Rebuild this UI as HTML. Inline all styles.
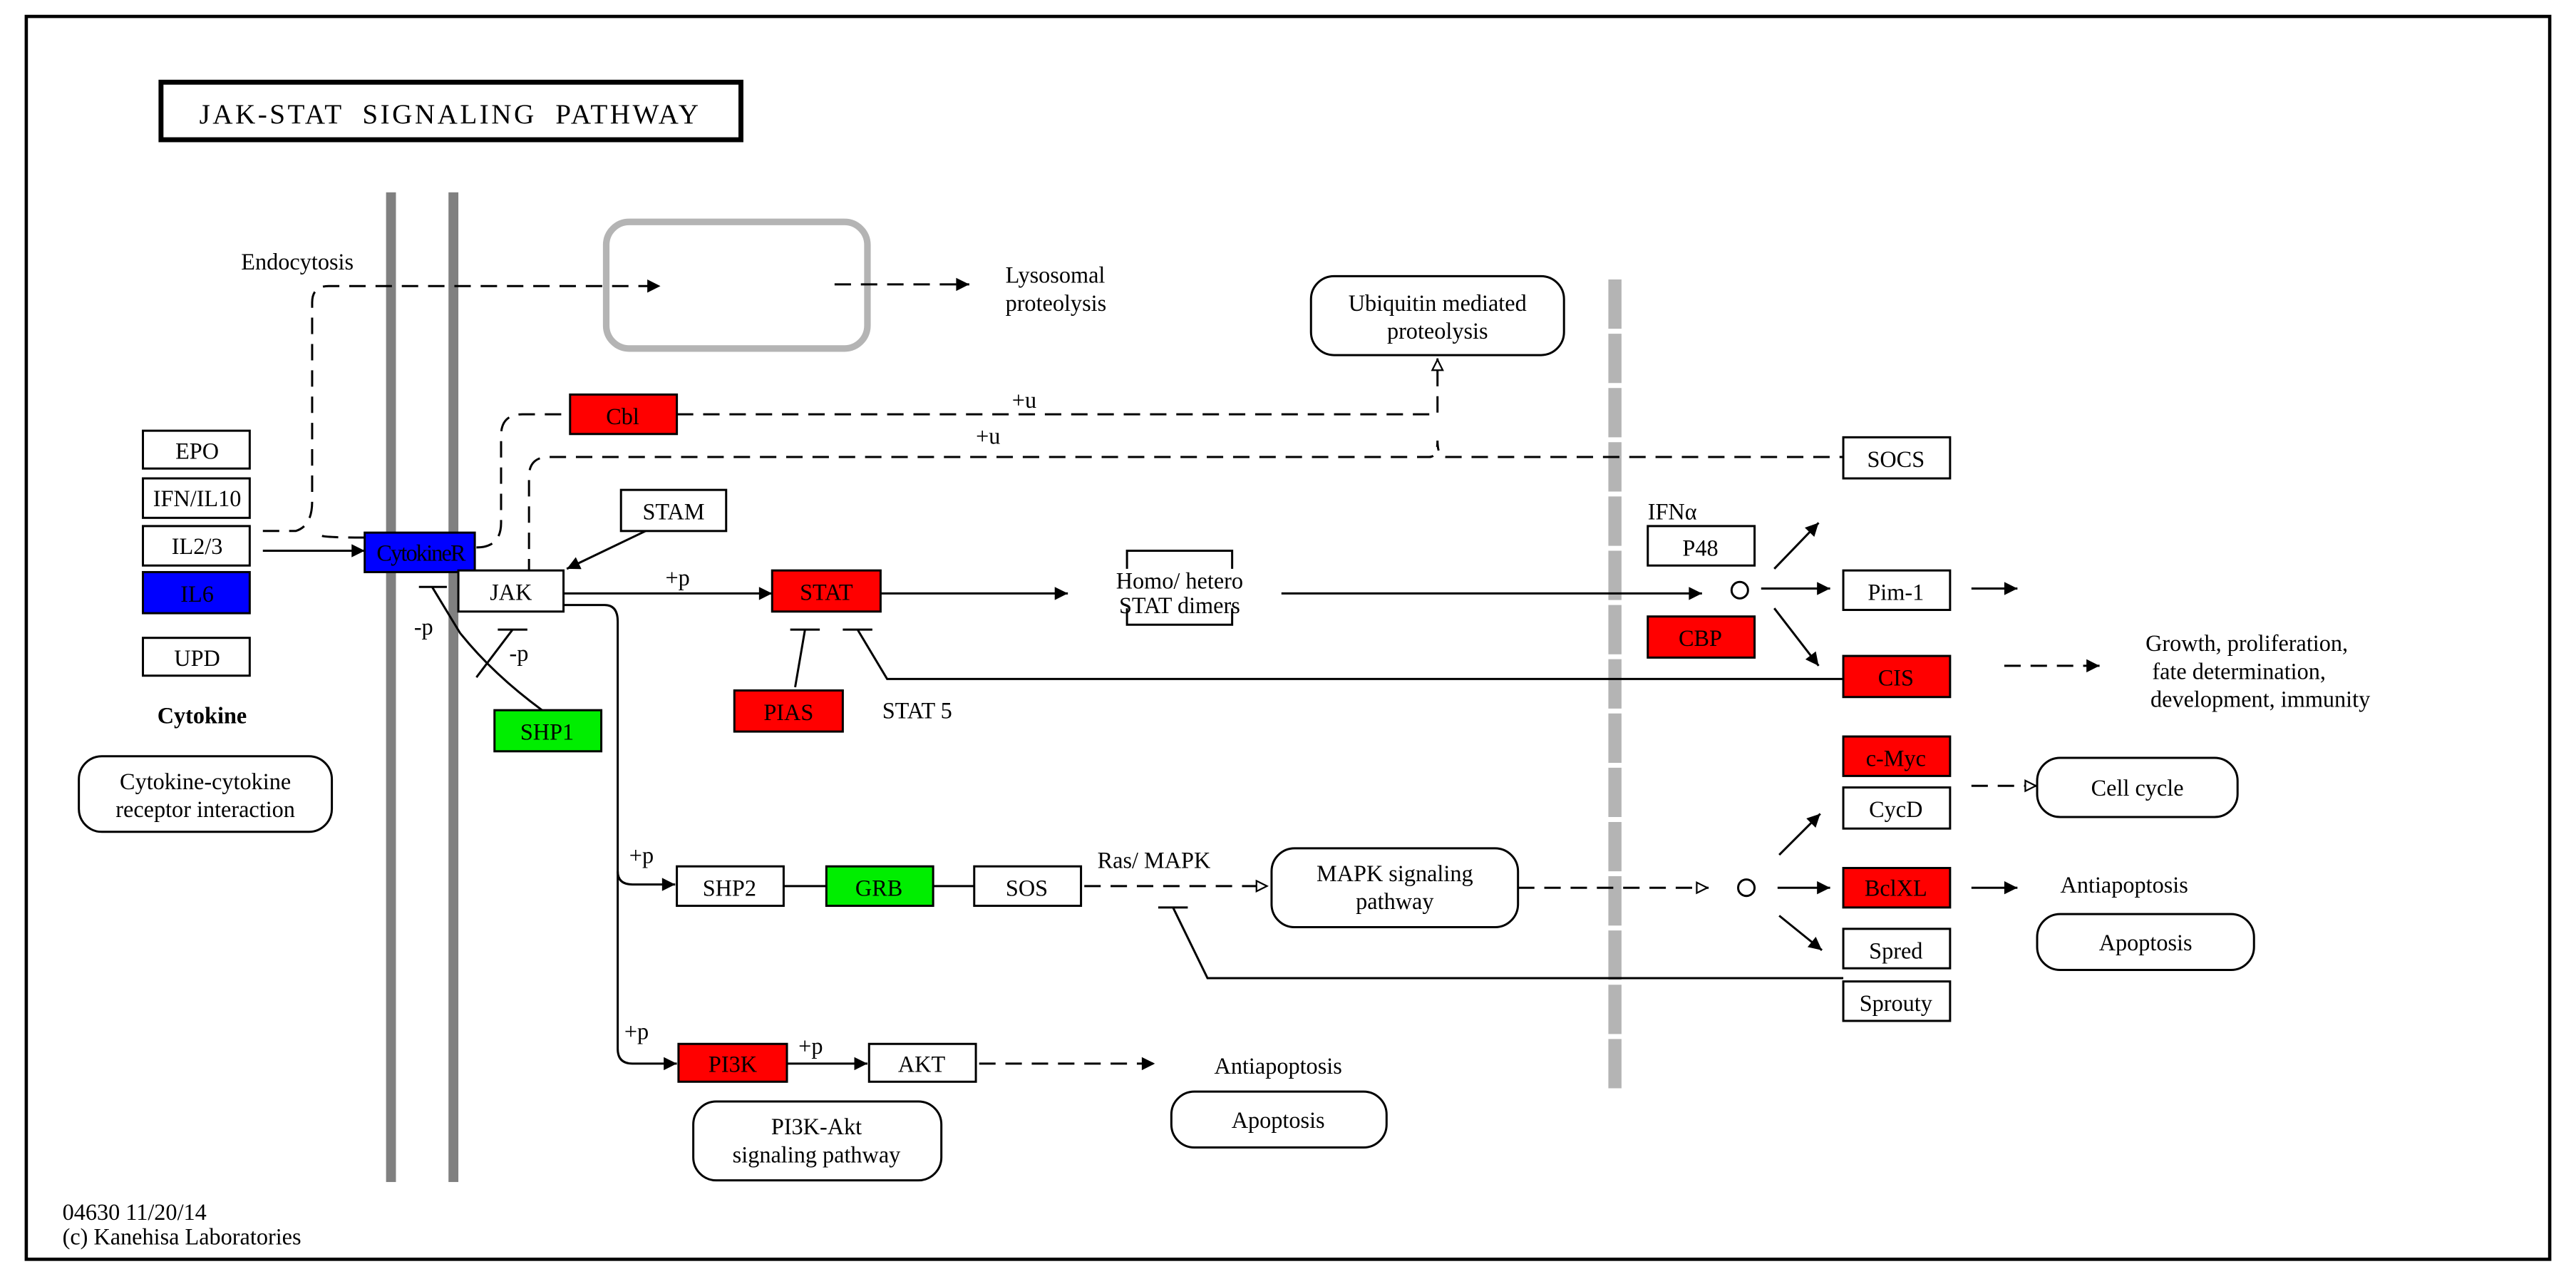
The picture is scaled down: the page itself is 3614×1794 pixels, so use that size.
<!DOCTYPE html>
<html><head><meta charset="utf-8"><style>
html,body{margin:0;padding:0;background:#fff}
svg{display:block}
text{font-family:"Liberation Serif",serif;font-size:14px;fill:#000}
</style></head><body>
<svg width="3614" height="1794" viewBox="0 0 1568 778" preserveAspectRatio="none" xmlns="http://www.w3.org/2000/svg">
<defs>
<marker id="a" viewBox="0 0 10 10" refX="10" refY="5" markerWidth="10" markerHeight="8" markerUnits="userSpaceOnUse" orient="auto"><path d="M0,0L10,5L0,10z" fill="#000"/></marker>
<marker id="o" viewBox="0 0 10 10" refX="10" refY="5" markerWidth="10" markerHeight="8" markerUnits="userSpaceOnUse" orient="auto"><path d="M1,1L9,5L1,9z" fill="#fff" stroke="#000" stroke-width="1.2"/></marker>
</defs>
<rect x="16" y="10" width="1536" height="756" fill="none" stroke="#000" stroke-width="2"/>
<rect x="98" y="50" width="353" height="35" fill="none" stroke="#000" stroke-width="3"/>
<text x="274" y="75" text-anchor="middle" style="font-size:17px;letter-spacing:1.5px;white-space:pre" xml:space="preserve">JAK-STAT  SIGNALING  PATHWAY</text>
<rect x="235" y="117" width="6" height="602" fill="#808080"/>
<rect x="273" y="117" width="6" height="602" fill="#808080"/>
<line x1="983" y1="170" x2="983" y2="665" stroke="#b4b4b4" stroke-width="8" stroke-dasharray="30,3"/>
<rect x="369" y="135" width="159" height="77" rx="14" fill="none" stroke="#b4b4b4" stroke-width="4"/>
<g stroke="#000" stroke-width="1.3" fill="none">
<g stroke-dasharray="10,6">
<path d="M160,323H180Q190,320 190,305V184Q190,174 200,174H402" marker-end="url(#a)"/>
<path d="M196,326Q200,327 222,327"/>
<path d="M508,173H590" marker-end="url(#a)"/>
<path d="M412,252H875V218" marker-end="url(#o)"/>
<path d="M290,333Q305,333 305,318V265Q305,252 318,252H347"/>
<path d="M322,350V290Q322,278 334,278H870Q875,278 875,268Q875,278 880,278H1122"/>
<path d="M1220,405H1278" marker-end="url(#a)"/>
<path d="M660,539H772" marker-end="url(#o)"/>
<path d="M924,540H1040" marker-end="url(#o)"/>
<path d="M1200,478H1240" marker-end="url(#o)"/>
<path d="M596,647H703" marker-end="url(#a)"/>
</g>
<path d="M160,335H222" marker-end="url(#a)"/>
<path d="M393,323L345,346" marker-end="url(#a)"/>
<path d="M343,361H470" marker-end="url(#a)"/>
<path d="M536,361H650" marker-end="url(#a)"/>
<path d="M780,361H1036" marker-end="url(#a)"/>
<path d="M1080,346L1107,318" marker-end="url(#a)"/>
<path d="M1072,358H1114" marker-end="url(#a)"/>
<path d="M1080,370L1107,405" marker-end="url(#a)"/>
<path d="M1200,358H1228" marker-end="url(#a)"/>
<path d="M1083,520L1108,495" marker-end="url(#a)"/>
<path d="M1082,540H1114" marker-end="url(#a)"/>
<path d="M1083,557L1109,578" marker-end="url(#a)"/>
<path d="M1200,540H1228" marker-end="url(#a)"/>
<path d="M343,368H368Q376,368 376,378V530Q376,538 385,538H411" marker-end="url(#a)"/>
<path d="M376,530V638Q376,647 385,647H412" marker-end="url(#a)"/>
<path d="M479,647H528" marker-end="url(#a)"/>
<path d="M477,539H503M568,539H593"/>
<path d="M481,383H499M490,383L484,418"/>
<path d="M513,383H531M522,383L540,413H1122"/>
<path d="M705,552H723M714,552L735,595H1122"/>
<path d="M255,357H272M263,357L280,385Q300,410 330,432"/>
<path d="M303,383H321M312,383L290,412"/>
<circle cx="1059" cy="359" r="5"/>
<circle cx="1063" cy="540" r="5"/>
<path d="M686,346V335H750V346M686,370V380H750V370"/>
</g>
<g stroke="#000" stroke-width="1.3">
<rect x="87" y="262" width="65" height="23" fill="#fff"/>
<rect x="87" y="291" width="65" height="24" fill="#fff"/>
<rect x="87" y="320" width="65" height="24" fill="#fff"/>
<rect x="87" y="348" width="65" height="25" fill="#0000ff"/>
<rect x="87" y="388" width="65" height="23" fill="#fff"/>
<rect x="222" y="324" width="67" height="24" fill="#0000ff"/>
<rect x="279" y="347" width="64" height="25" fill="#fff"/>
<rect x="378" y="298" width="64" height="25" fill="#fff"/>
<rect x="347" y="240" width="65" height="24" fill="#ff0000"/>
<rect x="470" y="347" width="66" height="25" fill="#ff0000"/>
<rect x="447" y="420" width="66" height="25" fill="#ff0000"/>
<rect x="301" y="432" width="65" height="25" fill="#00ee00"/>
<rect x="412" y="527" width="65" height="24" fill="#fff"/>
<rect x="503" y="527" width="65" height="24" fill="#00ee00"/>
<rect x="593" y="527" width="65" height="24" fill="#fff"/>
<rect x="413" y="635" width="66" height="23" fill="#ff0000"/>
<rect x="529" y="635" width="65" height="23" fill="#fff"/>
<rect x="1122" y="266" width="65" height="25" fill="#fff"/>
<rect x="1003" y="320" width="65" height="24" fill="#fff"/>
<rect x="1003" y="375" width="65" height="25" fill="#ff0000"/>
<rect x="1122" y="347" width="65" height="24" fill="#fff"/>
<rect x="1122" y="399" width="65" height="25" fill="#ff0000"/>
<rect x="1122" y="448" width="65" height="24" fill="#ff0000"/>
<rect x="1122" y="479" width="65" height="25" fill="#fff"/>
<rect x="1122" y="528" width="65" height="24" fill="#ff0000"/>
<rect x="1122" y="565" width="65" height="24" fill="#fff"/>
<rect x="1122" y="597" width="65" height="24" fill="#fff"/>
<g fill="#fff">
<rect x="48" y="460" width="154" height="46" rx="14"/>
<rect x="798" y="168" width="154" height="48" rx="14"/>
<rect x="774" y="516" width="150" height="48" rx="14"/>
<rect x="1240" y="461" width="122" height="36" rx="14"/>
<rect x="1240" y="556" width="132" height="34" rx="14"/>
<rect x="713" y="664" width="131" height="34" rx="14"/>
<rect x="422" y="670" width="151" height="48" rx="14"/>
</g>
</g>
<g text-anchor="middle">
<text x="120" y="279">EPO</text>
<text x="120" y="308">IFN/IL10</text>
<text x="120" y="337">IL2/3</text>
<text x="120" y="366">IL6</text>
<text x="120" y="405">UPD</text>
<text x="123" y="440" style="font-weight:bold">Cytokine</text>
<text x="125" y="480">Cytokine-cytokine</text>
<text x="125" y="497">receptor interaction</text>
<text x="256" y="341" style="letter-spacing:-0.8px">CytokineR</text>
<text x="311" y="365">JAK</text>
<text x="410" y="316">STAM</text>
<text x="379" y="258">Cbl</text>
<text x="503" y="365">STAT</text>
<text x="480" y="438">PIAS</text>
<text x="333" y="450">SHP1</text>
<text x="444" y="545">SHP2</text>
<text x="535" y="545">GRB</text>
<text x="625" y="545">SOS</text>
<text x="446" y="652">PI3K</text>
<text x="561" y="652">AKT</text>
<text x="1154" y="284">SOCS</text>
<text x="1035" y="338">P48</text>
<text x="1035" y="393">CBP</text>
<text x="1154" y="365">Pim-1</text>
<text x="1154" y="417">CIS</text>
<text x="1154" y="466">c-Myc</text>
<text x="1154" y="497">CycD</text>
<text x="1154" y="545">BclXL</text>
<text x="1154" y="583">Spred</text>
<text x="1154" y="615">Sprouty</text>
<text x="875" y="189">Ubiquitin mediated</text>
<text x="875" y="206">proteolysis</text>
<text x="849" y="536">MAPK signaling</text>
<text x="849" y="553">pathway</text>
<text x="1301" y="484">Cell cycle</text>
<text x="1306" y="578">Apoptosis</text>
<text x="778" y="686">Apoptosis</text>
<text x="497" y="690">PI3K-Akt</text>
<text x="497" y="707">signaling pathway</text>
<text x="718" y="358">Homo/ hetero</text>
<text x="718" y="373">STAT dimers</text>
<text x="181" y="164">Endocytosis</text>
<text x="1293" y="543">Antiapoptosis</text>
<text x="778" y="653">Antiapoptosis</text>
</g>
<text x="612" y="172">Lysosomal</text>
<text x="612" y="189">proteolysis</text>
<text x="616" y="248">+u</text>
<text x="594" y="270">+u</text>
<text x="405" y="356">+p</text>
<text x="383" y="525">+p</text>
<text x="380" y="632">+p</text>
<text x="486" y="641">+p</text>
<text x="252" y="386">-p</text>
<text x="310" y="402">-p</text>
<text x="537" y="437">STAT 5</text>
<text x="668" y="528">Ras/ MAPK</text>
<text x="1003" y="316">IFNα</text>
<text x="1306" y="396">Growth, proliferation,</text>
<text x="1310" y="413">fate determination,</text>
<text x="1309" y="430">development, immunity</text>
<text x="38" y="742">04630 11/20/14</text>
<text x="38" y="757">(c) Kanehisa Laboratories</text>
</svg>
</body></html>
